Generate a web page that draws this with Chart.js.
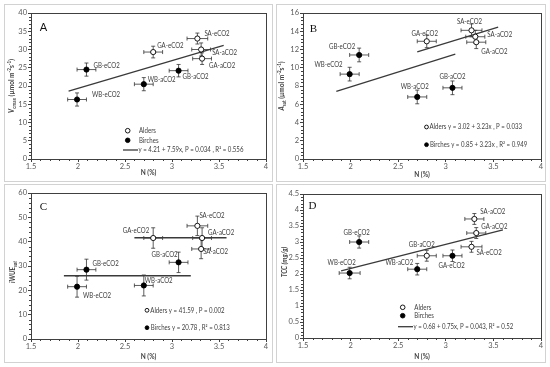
<!DOCTYPE html>
<html>
<head>
<meta charset="UTF-8">
<script src="https://cdn.jsdelivr.net/npm/chart.js"></script>
<style>
  body { margin: 0; background: #fff; }
  #wrap { position: relative; width: 550px; height: 367px; }
  canvas { position: absolute; }
</style>
</head>
<body>
<div id="wrap"></div>
<script>
// values
const namesABC = ['SA-eCO2', 'SA-aCO2', 'GA-eCO2', 'GA-aCO2', 'WB-eCO2', 'WB-aCO2', 'GB-eCO2', 'GB-aCO2'];
const alderABC = [true, true, true, true, false, false, false, false];
const nABC = [3.27, 3.31, 2.80, 3.32, 1.99, 2.70, 2.09, 3.07];
const nErrABC = [0.11, 0.10, 0.10, 0.10, 0.10, 0.10, 0.10, 0.10];

const vcmax = [33.0, 30.0, 29.3, 27.5, 16.3, 20.5, 24.5, 24.2];
const vcmaxErr = [1.5, 1.8, 1.6, 1.6, 1.8, 1.8, 1.8, 1.7];
const vcmaxFitX = [1.9, 3.55];
const vcmaxFitY = [18.6, 31.1];

const asat = [14.1, 13.4, 12.9, 12.8, 9.3, 6.8, 11.4, 7.8];
const asatErr = [0.7, 0.7, 0.7, 0.7, 0.75, 0.75, 0.75, 0.75];
const asatAlderFitX = [2.7, 3.55];
const asatAlderFitY = [11.75, 14.45];
const asatBirchFitX = [1.85, 3.1];
const asatBirchFitY = [7.4, 11.5];

const iwue = [46.5, 37.0, 41.5, 41.5, 21.5, 22.0, 28.5, 31.5];
const iwueErr = [4.0, 4.0, 4.2, 4.2, 4.3, 4.3, 4.3, 4.2];
const iwueAlderFitX = [2.6, 3.58];
const iwueAlderFitY = [41.6, 41.6];
const iwueBirchFitX = [1.85, 3.2];
const iwueBirchFitY = [26, 26];

const namesD = ['SA-aCO2', 'GA-aCO2', 'SA-eCO2', 'GB-aCO2', 'GA-eCO2', 'GB-eCO2', 'WB-eCO2', 'WB-aCO2'];
const alderD = [true, true, true, true, false, false, false, false];
const nD = [3.30, 3.32, 3.27, 2.80, 3.07, 2.09, 1.99, 2.70];
const nErrD = [0.10, 0.10, 0.11, 0.10, 0.10, 0.10, 0.11, 0.10];
const tcc = [3.72, 3.28, 2.85, 2.57, 2.57, 3.00, 2.03, 2.15];
const tccErr = [0.17, 0.17, 0.17, 0.17, 0.18, 0.19, 0.18, 0.18];
const tccFitX = [1.9, 3.6];
const tccFitY = [2.1, 3.38];

const AX = '#404040';
const TXT = '#404040';
const SANS = 'Lato';
const SQ = 0.87; // Lato is wider than the original's Calibri
const wrap = document.getElementById('wrap');

function tickFmt(v) { return String(+v.toFixed(2)); }

function narrowText(ctx, text, x, y, align) {
  ctx.save();
  ctx.translate(x, y);
  ctx.scale(SQ, 1);
  ctx.textAlign = align;
  ctx.textBaseline = 'middle';
  ctx.fillText(text, 0, 0);
  ctx.restore();
}

function drawRich(ctx, parts, size) {
  let total = 0;
  const segs = parts.map(p => {
    const s = (p.sub || p.sup) ? size * 0.7 : size;
    const f = `${p.i ? 'italic ' : ''}bold ${s}px ${SANS}`;
    ctx.font = f;
    const w = ctx.measureText(p.t).width * SQ;
    total += w;
    return { p, f, w, dy: p.sub ? size * 0.28 : p.sup ? -size * 0.32 : 0 };
  });
  let x = -total / 2;
  for (const s of segs) {
    ctx.font = s.f;
    narrowText(ctx, s.p.t, x, s.dy, 'left');
    x += s.w;
  }
}

function marker(ctx, x, y, r, open) {
  ctx.beginPath();
  ctx.arc(x, y, r, 0, Math.PI * 2);
  ctx.fillStyle = open ? '#fff' : '#000';
  ctx.fill();
  ctx.lineWidth = 0.9;
  ctx.strokeStyle = '#000';
  ctx.stroke();
}

function makePanel(p) {
  const c = document.createElement('canvas');
  c.width = p.frame.w;
  c.height = p.frame.h;
  c.style.left = p.frame.x + 'px';
  c.style.top = p.frame.y + 'px';
  wrap.appendChild(c);

  const pts = (flag) => p.names.map((_, i) => ({ x: p.n[i], y: p.y[i], a: p.alder[i] }))
    .filter(d => d.a === flag);

  const fitSets = p.fits.map(f => ({
    type: 'line',
    data: f.x.map((v, i) => ({ x: v, y: f.y[i] })),
    borderColor: '#3a3a3a',
    borderWidth: 1.3,
    pointRadius: 0,
    fill: false
  }));

  const plugin = {
    id: 'panel' + p.letter,
    beforeDatasetsDraw(chart) {
      const ctx = chart.ctx, xs = chart.scales.x, ys = chart.scales.y;
      ctx.save();
      ctx.strokeStyle = '#333';
      ctx.lineWidth = 0.8;
      p.names.forEach((_, i) => {
        const px = xs.getPixelForValue(p.n[i]);
        const py = ys.getPixelForValue(p.y[i]);
        const x1 = xs.getPixelForValue(p.n[i] - p.nErr[i]);
        const x2 = xs.getPixelForValue(p.n[i] + p.nErr[i]);
        const y1 = ys.getPixelForValue(p.y[i] - p.yErr[i]);
        const y2 = ys.getPixelForValue(p.y[i] + p.yErr[i]);
        ctx.beginPath();
        ctx.moveTo(x1, py); ctx.lineTo(x2, py);
        ctx.moveTo(x1, py - 2); ctx.lineTo(x1, py + 2);
        ctx.moveTo(x2, py - 2); ctx.lineTo(x2, py + 2);
        ctx.moveTo(px, y1); ctx.lineTo(px, y2);
        ctx.moveTo(px - 2, y1); ctx.lineTo(px + 2, y1);
        ctx.moveTo(px - 2, y2); ctx.lineTo(px + 2, y2);
        ctx.stroke();
      });
      ctx.restore();
    },
    afterDraw(chart) {
      const ctx = chart.ctx, xs = chart.scales.x, ys = chart.scales.y, a = chart.chartArea;
      ctx.save();
      // panel frame
      ctx.strokeStyle = '#d2d2d2';
      ctx.lineWidth = 1;
      ctx.strokeRect(0.5, 0.5, c.width - 1, c.height - 1);
      // plot frame
      ctx.strokeStyle = AX;
      ctx.strokeRect(Math.round(a.left) + 0.5, Math.round(a.top) + 0.5,
        Math.round(a.right - a.left), Math.round(a.bottom - a.top));
      // minor ticks
      ctx.beginPath();
      for (let k = 0; k <= 25; k++) {
        if (k % 5 === 0) continue;
        const px = Math.round(xs.getPixelForValue(1.5 + k * 0.1)) + 0.5;
        ctx.moveTo(px, a.bottom); ctx.lineTo(px, a.bottom + 2);
      }
      const nMinor = Math.round(p.yMax / p.yMinor);
      for (let k = 0; k <= nMinor; k++) {
        if (k % 5 === 0) continue;
        const py = Math.round(ys.getPixelForValue(k * p.yMinor)) + 0.5;
        ctx.moveTo(a.left - 2, py); ctx.lineTo(a.left, py);
      }
      ctx.stroke();

      // everything below is placed in figure coordinates
      ctx.translate(-p.frame.x, -p.frame.y);
      ctx.fillStyle = TXT;

      // point labels
      ctx.font = `7px ${SANS}`;
      p.names.forEach((nm, i) => {
        const px = xs.getPixelForValue(p.n[i]) + p.frame.x;
        const py = ys.getPixelForValue(p.y[i]) + p.frame.y;
        const o = p.lab[i];
        narrowText(ctx, nm, px + o[0], py + o[1], o[2]);
      });

      // legend
      p.legend.forEach(L => {
        if (L.kind === 'line') {
          ctx.strokeStyle = '#3a3a3a';
          ctx.lineWidth = 1.3;
          ctx.beginPath();
          ctx.moveTo(L.mx, L.y); ctx.lineTo(L.mx2, L.y);
          ctx.stroke();
        } else {
          marker(ctx, L.mx, L.y, L.r, L.kind === 'open');
        }
        ctx.fillStyle = TXT;
        ctx.font = `7px ${SANS}`;
        narrowText(ctx, L.text, L.tx, L.y, 'left');
      });

      // panel letter
      ctx.fillStyle = '#111';
      ctx.font = p.letterFont;
      ctx.textAlign = 'center';
      ctx.textBaseline = 'middle';
      ctx.fillText(p.letter, p.letterPos[0], p.letterPos[1]);

      // axis titles
      ctx.fillStyle = TXT;
      ctx.font = `bold 7.5px ${SANS}`;
      narrowText(ctx, 'N (%)', (p.plot.l + p.plot.r) / 2, p.xTitleY, 'center');
      ctx.save();
      ctx.translate(p.yTitle[0], p.yTitle[1]);
      ctx.rotate(-Math.PI / 2);
      drawRich(ctx, p.yParts, 7.5);
      ctx.restore();
      ctx.restore();
    }
  };

  new Chart(c, {
    type: 'scatter',
    data: {
      datasets: [
        { data: pts(true), pointRadius: 2.6, backgroundColor: '#fff', borderColor: '#000', borderWidth: 0.9 },
        { data: pts(false), pointRadius: 2.6, backgroundColor: '#000', borderColor: '#000', borderWidth: 0.9 },
        ...fitSets
      ]
    },
    options: {
      responsive: false,
      animation: false,
      devicePixelRatio: 1,
      layout: {
        padding: {
          left: 0,
          top: p.plot.t - p.frame.y,
          right: p.frame.x + p.frame.w - p.plot.r,
          bottom: 0
        }
      },
      plugins: { legend: { display: false }, tooltip: { enabled: false } },
      scales: {
        x: {
          type: 'linear', min: 1.5, max: 4,
          afterFit(s) { s.height = p.frame.y + p.frame.h - p.plot.b; },
          ticks: { stepSize: 0.5, callback: tickFmt, color: '#595959', font: { family: SANS, size: 7.5 }, padding: 0, maxRotation: 0 },
          grid: { drawOnChartArea: false, tickLength: 3, color: AX },
          border: { color: AX }
        },
        y: {
          type: 'linear', min: 0, max: p.yMax,
          afterFit(s) { s.width = p.plot.l - p.frame.x; },
          ticks: { stepSize: p.yStep, callback: tickFmt, color: '#595959', font: { family: SANS, size: 7.5 }, padding: 1 },
          grid: { drawOnChartArea: false, tickLength: 3, color: AX },
          border: { color: AX }
        }
      }
    },
    plugins: [plugin]
  });
}

makePanel({
  letter: 'A', letterFont: `11px ${SANS}`, letterPos: [43.5, 27],
  frame: { x: 4, y: 4, w: 269, h: 178 },
  plot: { l: 31, r: 266, t: 13, b: 159 },
  yMax: 40, yStep: 5, yMinor: 1,
  names: namesABC, alder: alderABC, n: nABC, nErr: nErrABC, y: vcmax, yErr: vcmaxErr,
  fits: [{ x: vcmaxFitX, y: vcmaxFitY }],
  lab: [[7, -4.5, 'left'], [11, 3.5, 'left'], [4, -6, 'left'], [7, 7, 'left'],
        [15, -4.5, 'left'], [4, -4, 'left'], [7, -4, 'left'], [4, 6, 'left']],
  legend: [
    { kind: 'open', mx: 127.7, r: 2.3, y: 130.7, tx: 139, text: 'Alders' },
    { kind: 'fill', mx: 127.7, r: 2.3, y: 140.3, tx: 139, text: 'Birches' },
    { kind: 'line', mx: 123, mx2: 138, y: 150, tx: 138.5, text: 'y = 4.21 + 7.59x, P = 0.034 , R² = 0.556' }
  ],
  xTitleY: 172.7, yTitle: [12, 86],
  yParts: [{ t: 'V', i: true }, { t: 'cmax', sub: true }, { t: ' (µmol m' }, { t: '-2', sup: true },
           { t: 's' }, { t: '-1', sup: true }, { t: ')' }]
});

makePanel({
  letter: 'B', letterFont: `11px "Liberation Serif"`, letterPos: [313.5, 29.5],
  frame: { x: 276, y: 4, w: 270, h: 178 },
  plot: { l: 303, r: 541, t: 13, b: 159 },
  yMax: 16, yStep: 2, yMinor: 0.4,
  names: namesABC, alder: alderABC, n: nABC, nErr: nErrABC, y: asat, yErr: asatErr,
  fits: [{ x: asatAlderFitX, y: asatAlderFitY }, { x: asatBirchFitX, y: asatBirchFitY }],
  lab: [[-2, -9, 'center'], [12, -2, 'left'], [-2, -8, 'center'], [5, 10, 'left'],
        [-7, -9, 'right'], [-2.5, -10, 'center'], [-4, -8, 'right'], [0, -11, 'center']],
  legend: [
    { kind: 'open', mx: 426.5, r: 1.9, y: 127, tx: 429.5, text: 'Alders y = 3.02 + 3.23x , P = 0.033' },
    { kind: 'fill', mx: 426.5, r: 1.9, y: 144.7, tx: 430, text: 'Birches y = 0.85 + 3.23x , R² = 0.949' }
  ],
  xTitleY: 175, yTitle: [282, 86],
  yParts: [{ t: 'A', i: true }, { t: 'sat', sub: true }, { t: ' (µmol m' }, { t: '-2', sup: true },
           { t: 's' }, { t: '-1', sup: true }, { t: ')' }]
});

makePanel({
  letter: 'C', letterFont: `11px "Liberation Serif"`, letterPos: [43.5, 207],
  frame: { x: 4, y: 184, w: 269, h: 179 },
  plot: { l: 31, r: 266, t: 193, b: 339 },
  yMax: 60, yStep: 10, yMinor: 2,
  names: namesABC, alder: alderABC, n: nABC, nErr: nErrABC, y: iwue, yErr: iwueErr,
  fits: [{ x: iwueAlderFitX, y: iwueAlderFitY }, { x: iwueBirchFitX, y: iwueBirchFitY }],
  lab: [[2, -10.5, 'left'], [2, 3, 'left'], [-4, -7, 'right'], [6, -5, 'left'],
        [6, 9, 'left'], [1, -4.5, 'left'], [6, -6, 'left'], [-1, -8, 'right']],
  legend: [
    { kind: 'open', mx: 147, r: 1.9, y: 310.3, tx: 150.3, text: 'Alders y = 41.59 , P = 0.002' },
    { kind: 'fill', mx: 147, r: 1.9, y: 327.7, tx: 150.8, text: 'Birches y = 20.78 , R² = 0.813' }
  ],
  xTitleY: 357, yTitle: [13, 272],
  yParts: [{ t: 'iWUE', i: true }, { t: 'sat', sub: true, i: true }]
});

makePanel({
  letter: 'D', letterFont: `11px "Liberation Serif"`, letterPos: [312.5, 206.5],
  frame: { x: 276, y: 184, w: 270, h: 179 },
  plot: { l: 303, r: 541, t: 194, b: 338 },
  yMax: 4.5, yStep: 0.5, yMinor: 0.1,
  names: namesD, alder: alderD, n: nD, nErr: nErrD, y: tcc, yErr: tccErr,
  fits: [{ x: tccFitX, y: tccFitY }],
  lab: [[6, -7, 'left'], [5, -6, 'left'], [5, 6, 'left'], [-5, -11, 'center'],
        [-14, 10, 'left'], [-2.5, -9, 'center'], [-8, -10, 'center'], [-4, -6, 'right']],
  legend: [
    { kind: 'open', mx: 402.7, r: 2.3, y: 307.3, tx: 414.3, text: 'Alders' },
    { kind: 'fill', mx: 402.7, r: 2.3, y: 315.7, tx: 414.3, text: 'Birches' },
    { kind: 'line', mx: 398, mx2: 413, y: 326.7, tx: 413.5, text: 'y = 0.68 + 0.75x, P = 0.043, R² = 0.52' }
  ],
  xTitleY: 356.3, yTitle: [285, 262],
  yParts: [{ t: 'TCC (mg/g)', i: true }]
});
</script>
</body>
</html>
